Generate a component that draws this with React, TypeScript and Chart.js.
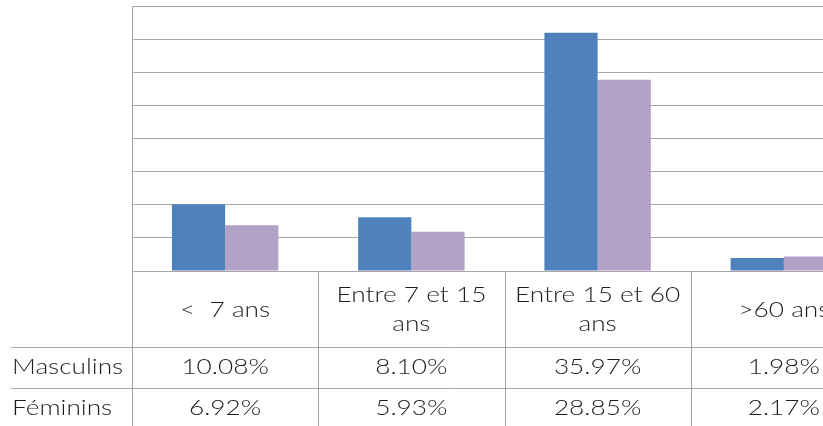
import React, { useEffect, useRef } from "react";
import { Chart, registerables } from "chart.js";

Chart.register(...registerables);

const categories: string[][] = [["<  7 ans"], ["Entre 7 et 15", "ans"], ["Entre 15 et 60", "ans"], [">60 ans"]];
const seriesNames = ["Masculins", "Féminins"];
const masculins = [10.08, 8.1, 35.97, 1.98];
const feminins = [6.92, 5.93, 28.85, 2.17];
const yTicksMax = 40;
const yStep = 5;

const BLUE = "#4F81BD";
const PURPLE = "#B2A2C7";
const GRID = "#a6a6a6";
const FONT = "300 21px Lato";
const TEXT = "#1e1e1e";
const STRETCH = 1.25;

const tablePlugin = {
  id: "dataTable",
  afterDraw(chart: any) {
    const { ctx, chartArea, scales } = chart;
    const xs = scales.x;
    const W = chart.width;
    const H = chart.height;
    const left = chartArea.left;
    const bottom = chartArea.bottom;
    const row1 = bottom + 76;
    const row2 = row1 + 41;
    const n = categories.length;
    const step = xs.getPixelForValue(1) - xs.getPixelForValue(0);
    const bounds: number[] = [];
    for (let i = 0; i <= n; i++) bounds.push(xs.getPixelForValue(i) - step / 2);
    ctx.save();
    ctx.strokeStyle = GRID;
    ctx.lineWidth = 1;
    const h = (y: number, x0: number, x1: number) => {
      const yy = Math.round(y) + 0.5;
      ctx.beginPath();
      ctx.moveTo(x0, yy);
      ctx.lineTo(x1, yy);
      ctx.stroke();
    };
    const v = (x: number, y0: number, y1: number) => {
      const xx = Math.round(x) + 0.5;
      ctx.beginPath();
      ctx.moveTo(xx, y0);
      ctx.lineTo(xx, y1);
      ctx.stroke();
    };
    h(bottom, left, W);
    h(row1, 11, W);
    h(row2, 11, W);
    for (let i = 0; i <= n; i++) v(bounds[i], bottom, H);
    ctx.fillStyle = TEXT;
    ctx.font = FONT;
    ctx.textBaseline = "middle";
    const text = (t: string, x: number, y: number, align: "left" | "center") => {
      ctx.save();
      ctx.textAlign = align;
      ctx.translate(x, y);
      ctx.scale(STRETCH, 1);
      ctx.fillText(t, 0, 0);
      ctx.restore();
    };
    const mid1 = (bottom + row1) / 2 + 1;
    categories.forEach((lines, i) => {
      const cx = xs.getPixelForValue(i);
      const lh = 29;
      const y0 = mid1 - ((lines.length - 1) * lh) / 2;
      lines.forEach((t, j) => text(t, cx, y0 + j * lh, "center"));
    });
    const rows = [masculins, feminins];
    const rowMids = [(row1 + row2) / 2, row2 + 20];
    rows.forEach((vals, r) => {
      vals.forEach((val, i) => {
        text(val.toFixed(2) + "%", xs.getPixelForValue(i), rowMids[r], "center");
      });
      text(seriesNames[r], 12, rowMids[r], "left");
    });
    ctx.restore();
  },
};

export default function App() {
  const ref = useRef<HTMLCanvasElement>(null);
  useEffect(() => {
    document.body.style.margin = "0";
    const chart = new Chart(ref.current!, {
      type: "bar",
      data: {
        labels: categories.map((c) => c.join(" ")),
        datasets: [
          { label: seriesNames[0], data: masculins, backgroundColor: BLUE, borderWidth: 0 },
          { label: seriesNames[1], data: feminins, backgroundColor: PURPLE, borderWidth: 0 },
        ],
      },
      options: {
        responsive: false,
        animation: false,
        devicePixelRatio: 1,
        datasets: { bar: { categoryPercentage: 1 / 1.75, barPercentage: 1 } },
        layout: { padding: { left: 132, top: 6, right: 23, bottom: 155 } },
        plugins: { legend: { display: false }, tooltip: { enabled: false } },
        scales: {
          x: { display: false },
          y: {
            min: 0,
            max: yTicksMax,
            ticks: { display: false, stepSize: yStep },
            grid: { color: GRID, drawTicks: false, lineWidth: 1 },
            border: { color: GRID, width: 1 },
            afterFit: (s: any) => {
              s.width = 0;
            },
          },
        },
      },
      plugins: [tablePlugin],
    });
    return () => chart.destroy();
  }, []);
  return (
    <div style={{ position: "fixed", left: 0, top: 0, width: 823, height: 426, overflow: "hidden", background: "#fff" }}>
      <canvas ref={ref} width={900} height={426} style={{ display: "block", width: 900, height: 426 }} />
    </div>
  );
}
